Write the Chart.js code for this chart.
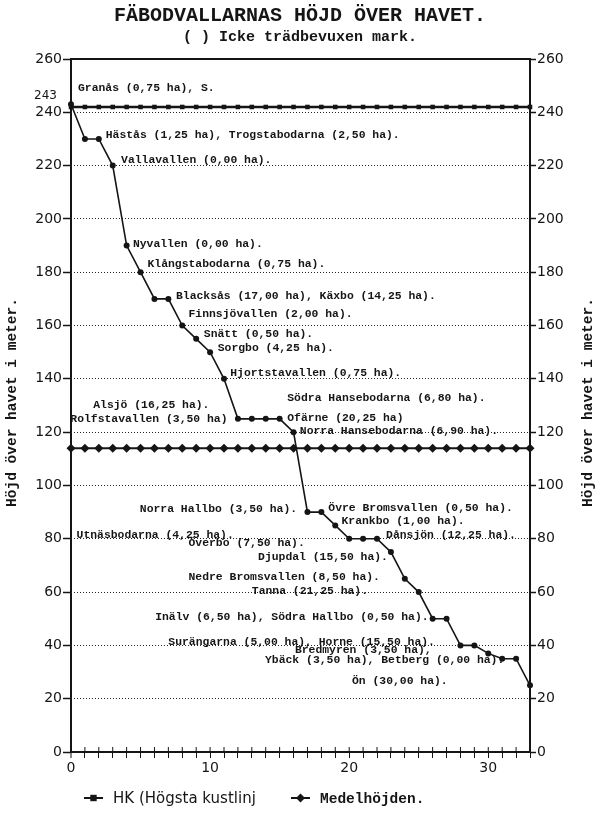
<!DOCTYPE html>
<html>
<head>
<meta charset="utf-8">
<script src="https://cdn.jsdelivr.net/npm/chart.js@4/dist/chart.umd.min.js"></script>
<style>
  html, body { margin: 0; background: #fff; }
</style>
</head>
<body>
<canvas id="hojd" width="600" height="818"></canvas>
<script>
// stations along the x axis, and height above sea level for each
const stations = [0, 1, 2, 3, 4, 5, 6, 7, 8, 9, 10, 11, 12, 13, 14, 15, 16,
  17, 18, 19, 20, 21, 22, 23, 24, 25, 26, 27, 28, 29, 30, 31, 32, 33]
const heights = [243, 230, 230, 220, 190, 180, 170, 170, 160, 155, 150, 140, 125, 125, 125, 125, 120,
  90, 90, 85, 80, 80, 80, 75, 65, 60, 50, 50, 40, 40, 37, 35, 35, 25]
const hkLevel = [242, 242, 242, 242, 242, 242, 242, 242, 242, 242, 242, 242, 242, 242, 242, 242, 242,
  242, 242, 242, 242, 242, 242, 242, 242, 242, 242, 242, 242, 242, 242, 242, 242, 242]
const meanLevel = [114, 114, 114, 114, 114, 114, 114, 114, 114, 114, 114, 114, 114, 114, 114, 114, 114,
  114, 114, 114, 114, 114, 114, 114, 114, 114, 114, 114, 114, 114, 114, 114, 114, 114]
const xLabels = [0, 10, 20, 30]

// the typed names next to the curve, placed in axis units
const notes = [
  ['Granås (0,75 ha), S.', 0.5, 249],
  ['Hästås (1,25 ha), Trogstabodarna (2,50 ha).', 2.5, 231.5],
  ['Vallavallen (0,00 ha).', 3.6, 222],
  ['Nyvallen (0,00 ha).', 4.45, 190.5],
  ['Klångstabodarna (0,75 ha).', 5.5, 183],
  ['Blacksås (17,00 ha), Käxbo (14,25 ha).', 7.55, 171],
  ['Finnsjövallen (2,00 ha).', 8.45, 164.2],
  ['Snätt (0,50 ha).', 9.55, 156.8],
  ['Sorgbo (4,25 ha).', 10.55, 151.5],
  ['Hjortstavallen (0,75 ha).', 11.45, 142.3],
  ['Alsjö (16,25 ha).', 1.6, 130],
  ['Rolfstavallen (3,50 ha)', -0.05, 125],
  ['Södra Hansebodarna (6,80 ha).', 15.55, 132.7],
  ['Ofärne (20,25 ha)', 15.55, 125.4],
  ['Norra Hansebodarna (6,90 ha).', 16.45, 120.3],
  ['Norra Hallbo (3,50 ha).', 4.95, 91.3],
  ['Övre Bromsvallen (0,50 ha).', 18.5, 91.5],
  ['Krankbo (1,00 ha).', 19.45, 86.8],
  ['Utnäsbodarna (4,25 ha).', 0.4, 81.5],
  ['Dånsjön (12,25 ha).', 22.65, 81.5],
  ['Överbo (7,50 ha).', 8.45, 78.4],
  ['Djupdal (15,50 ha).', 13.45, 73],
  ['Nedre Bromsvallen (8,50 ha).', 8.45, 65.5],
  ['Tanna (21,25 ha).', 13.0, 60.5],
  ['Inälv (6,50 ha), Södra Hallbo (0,50 ha).', 6.05, 50.6],
  ['Surängarna (5,00 ha), Horne (15,50 ha).', 7.0, 41.3],
  ['Bredmyren (3,50 ha),', 16.1, 38.3],
  ['Ybäck (3,50 ha), Betberg (0,00 ha).', 13.95, 34.6],
  ['Ön (30,00 ha).', 20.2, 26.5]
]

const INK = '#151515'
const TYPE = '"Liberation Mono", "DejaVu Sans Mono", monospace'
const SANS = '"DejaVu Sans", sans-serif'

function points(ys) {
  return stations.map((x, i) => ({x: x, y: ys[i]}))
}

function markerAt(ctx, style, x, y, r) {
  ctx.beginPath()
  if (style === 'rect') {
    ctx.rect(x - r, y - r, 2 * r, 2 * r)
  } else {
    ctx.moveTo(x, y - r); ctx.lineTo(x + r, y); ctx.lineTo(x, y + r); ctx.lineTo(x - r, y)
    ctx.closePath()
  }
  ctx.fill()
}

const extras = {
  id: 'extras',
  afterDraw(chart) {
    const {ctx, chartArea} = chart
    const xs = chart.scales.x, ys = chart.scales.y
    ctx.save()
    ctx.fillStyle = INK
    ctx.strokeStyle = INK

    // small ticks above the x axis
    ctx.lineWidth = 1
    const y0 = ys.getPixelForValue(0)
    stations.forEach(v => {
      const px = xs.getPixelForValue(v)
      ctx.beginPath(); ctx.moveTo(px, y0 - 5); ctx.lineTo(px, y0); ctx.stroke()
    })

    // typed labels
    ctx.font = 'bold 11.4px ' + TYPE
    ctx.textBaseline = 'middle'
    ctx.textAlign = 'left'
    notes.forEach(([t, x, y]) => ctx.fillText(t, xs.getPixelForValue(x), ys.getPixelForValue(y)))

    // 243 mark on the left
    ctx.font = '12px ' + SANS
    ctx.textAlign = 'right'
    ctx.fillText('243', chartArea.left - 14, ys.getPixelForValue(243) - 8)

    // axis titles, both reading upwards
    const mid = (chartArea.top + chartArea.bottom) / 2 - 3
    ctx.font = 'bold 14.5px ' + TYPE
    ctx.textAlign = 'center'
    ;[12, 588].forEach(px => {
      ctx.save()
      ctx.translate(px, mid)
      ctx.rotate(-Math.PI / 2)
      ctx.fillText('Höjd över havet i meter.', 0, 0)
      ctx.restore()
    })

    // legend
    const ly = 798
    const items = [
      {ds: chart.data.datasets[1], x: 84, font: '15px ' + SANS},
      {ds: chart.data.datasets[2], x: 291, font: 'bold 14.5px ' + TYPE}
    ]
    items.forEach(it => {
      ctx.lineWidth = 2
      ctx.beginPath(); ctx.moveTo(it.x, ly); ctx.lineTo(it.x + 19, ly); ctx.stroke()
      markerAt(ctx, it.ds.pointStyle, it.x + 9.5, ly, it.ds.pointStyle === 'rect' ? 3.2 : 4.5)
      ctx.font = it.font
      ctx.textAlign = 'left'
      ctx.fillText(it.ds.label, it.x + 29, ly + 1)
    })
    ctx.restore()
  }
}

new Chart(document.getElementById('hojd'), {
  type: 'line',
  data: {
    datasets: [
      {
        label: 'Fäbodvallar',
        data: points(heights),
        borderColor: INK,
        borderWidth: 1.6,
        pointRadius: 3,
        pointBackgroundColor: INK,
        pointBorderWidth: 0,
        clip: false
      },
      {
        label: 'HK (Högsta kustlinj',
        data: points(hkLevel),
        borderColor: INK,
        borderWidth: 2.5,
        pointStyle: 'rect',
        pointRadius: 3.2,
        pointBackgroundColor: INK,
        pointBorderWidth: 0,
        clip: false
      },
      {
        label: 'Medelhöjden.',
        data: points(meanLevel),
        borderColor: INK,
        borderWidth: 2,
        pointStyle: 'rectRot',
        pointRadius: 4.5,
        pointBackgroundColor: INK,
        pointBorderWidth: 0,
        clip: false
      }
    ]
  },
  options: {
    responsive: false,
    animation: false,
    devicePixelRatio: 1,
    layout: {padding: {top: 0, bottom: 36, left: 0, right: 0}},
    plugins: {
      legend: {display: false},
      tooltip: {enabled: false},
      title: {
        display: true,
        text: 'FÄBODVALLARNAS HÖJD ÖVER HAVET.',
        color: INK,
        font: {family: TYPE, size: 20, weight: 'bold'},
        padding: {top: 4, bottom: 0}
      },
      subtitle: {
        display: true,
        text: '( ) Icke trädbevuxen mark.',
        color: INK,
        font: {family: TYPE, size: 15, weight: 'bold'},
        padding: {top: 0, bottom: 13}
      }
    },
    scales: {
      x: {
        type: 'linear',
        position: 'bottom',
        min: 0,
        max: 33,
        afterFit: s => { s.height = 30 },
        ticks: {
          stepSize: 1,
          autoSkip: false,
          maxRotation: 0,
          color: INK,
          padding: 2,
          font: {family: SANS, size: 14},
          callback: v => xLabels.includes(v) ? String(v) : ''
        },
        grid: {
          drawOnChartArea: true,
          color: c => (c.tick && c.tick.value === 0) ? INK : 'rgba(0,0,0,0)',
          lineWidth: c => (c.tick && c.tick.value === 0) ? 2 : 1,
          tickColor: INK,
          tickWidth: 1,
          tickLength: 6
        },
        border: {display: true, color: INK, width: 2}
      },
      xTop: {
        type: 'linear',
        position: 'top',
        min: 0,
        max: 33,
        afterFit: s => { s.height = 0 },
        ticks: {display: false},
        grid: {display: false},
        border: {display: true, color: INK, width: 2}
      },
      y: {
        position: 'left',
        min: 0,
        max: 260,
        afterFit: s => { s.width = 71 },
        ticks: {
          stepSize: 20,
          color: INK,
          padding: 1,
          font: {family: SANS, size: 14}
        },
        grid: {
          color: c => (c.tick && (c.tick.value === 0 || c.tick.value === 260)) ? 'rgba(0,0,0,0)' : '#222',
          lineWidth: 1,
          tickColor: INK,
          tickWidth: 1.5,
          tickLength: 8
        },
        border: {display: false, dash: [1, 2]}
      },
      y2: {
        position: 'right',
        min: 0,
        max: 260,
        afterFit: s => { s.width = 70 },
        ticks: {
          stepSize: 20,
          color: INK,
          padding: 1,
          font: {family: SANS, size: 14}
        },
        grid: {
          drawOnChartArea: false,
          tickColor: INK,
          tickWidth: 1.5,
          tickLength: 6
        },
        border: {display: true, color: INK, width: 2}
      }
    }
  },
  plugins: [extras]
})
</script>
</body>
</html>
